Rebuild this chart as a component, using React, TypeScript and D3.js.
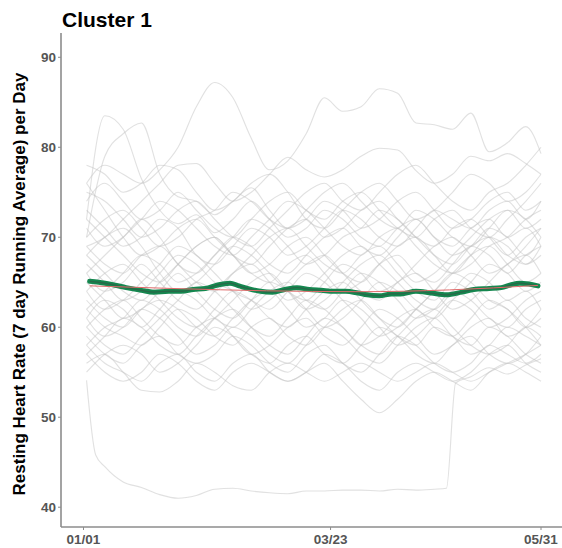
import React from "react";
import * as d3 from "d3";

const W = 562;
const H = 548;

const days = [1, 7, 13, 19, 25, 31, 37, 43, 49, 55, 61, 67, 73, 79, 85, 91, 97, 103, 109, 115, 121, 127, 133, 139, 145, 150];

const participants: number[][] = [
  [76, 78, 77, 76, 77.5, 80, 84.5, 87.2, 85.5, 81, 77.5, 78.5, 81.5, 85.5, 84, 84.5, 86.5, 86, 82.7, 82.5, 82, 83.8, 79.5, 80.5, 82.3, 79.3],
  [72, 83.5, 82, 76.5, 73, 71.5, 72.5, 70.5, 72, 74, 72, 70, 71, 73, 72, 70, 69, 71, 72, 70, 69, 71, 72, 70, 71, 69],
  [70, 79, 81.5, 82.7, 77, 74.5, 74, 72.5, 74, 75.5, 73, 71, 72, 74, 73, 71, 72, 74, 75, 73, 71, 72, 74, 75, 73, 74],
  [78, 77, 75, 76, 78, 77.5, 75, 73, 74, 76, 77, 75, 72, 71, 73, 75, 76, 74, 72, 73, 75, 77, 76, 74, 75, 77],
  [75, 74, 72, 70, 71, 73, 74, 72, 70, 69, 71, 73, 75, 76, 74, 73, 75, 77, 78, 76, 74, 73, 75, 76, 78, 80],
  [73, 71, 69, 70, 72, 71, 68, 67, 69, 71, 70, 68, 69, 71, 73, 72, 70, 69, 71, 73, 72, 71, 73, 74, 72, 74],
  [71, 69, 70, 72, 70, 67, 66, 68, 70, 69, 67, 66, 68, 70, 71, 69, 68, 70, 72, 70, 68, 69, 71, 70, 68, 70],
  [69, 67, 66, 68, 69, 67, 65, 64, 66, 68, 70, 71, 69, 67, 66, 68, 69, 67, 65, 66, 68, 70, 72, 73, 71, 72],
  [68, 70, 71, 69, 66, 64, 65, 67, 69, 68, 66, 64, 63, 65, 67, 66, 64, 65, 67, 69, 70, 68, 66, 67, 69, 71],
  [67, 65, 63, 64, 66, 68, 67, 65, 64, 62, 63, 65, 67, 68, 66, 64, 63, 65, 66, 64, 62, 63, 65, 67, 68, 66],
  [66, 64, 65, 67, 65, 63, 62, 64, 66, 67, 65, 63, 64, 66, 68, 69, 67, 65, 63, 62, 64, 66, 65, 63, 64, 62],
  [65, 63, 61, 62, 64, 66, 64, 62, 61, 63, 65, 64, 62, 60, 61, 63, 65, 64, 62, 61, 63, 65, 67, 66, 64, 65],
  [64, 66, 67, 65, 63, 61, 60, 62, 64, 63, 61, 60, 62, 64, 65, 63, 61, 60, 62, 64, 66, 65, 63, 62, 60, 61],
  [63, 61, 60, 62, 63, 62, 60, 59, 61, 63, 64, 62, 60, 61, 63, 62, 60, 58, 59, 61, 63, 62, 60, 61, 63, 64],
  [62, 60, 59, 58, 60, 62, 61, 59, 58, 60, 61, 59, 58, 60, 62, 63, 61, 59, 58, 60, 59, 57, 58, 60, 59, 58],
  [61, 59, 60, 62, 61, 59, 57, 58, 60, 59, 57, 56, 58, 60, 59, 57, 56, 58, 60, 61, 59, 58, 60, 59, 57, 56],
  [60, 62, 63, 61, 59, 58, 60, 61, 59, 57, 58, 60, 61, 59, 58, 60, 62, 61, 59, 57, 58, 60, 61, 59, 60, 62],
  [59, 57, 56, 58, 59, 57, 56, 57, 59, 58, 56, 55, 57, 58, 56, 55, 57, 59, 58, 56, 55, 56, 58, 57, 56, 57],
  [58, 56, 55, 54, 56, 57, 55, 54, 56, 57, 55, 54, 55, 57, 56, 54, 53, 55, 56, 55, 54, 55, 57, 58, 56, 55],
  [57, 55, 54, 55, 57, 56, 54, 53, 55, 56, 55, 54, 55, 56, 54, 52, 50.5, 52, 54, 55, 54, 53, 55, 56, 55, 54],
  [56, 57, 55, 53, 52.8, 54, 56, 55, 53.5, 53, 55, 56, 55, 54, 55, 56, 55, 54, 55, 56, 55, 54, 55, 56, 57, 58],
  [76, 73, 70, 68, 69, 71, 72, 70, 68, 66, 67, 69, 70, 68, 66, 65, 67, 69, 70, 68, 66, 67, 69, 70, 72, 73],
  [74, 76, 74, 72, 73, 75, 73, 71, 70, 72, 74, 75, 73, 72, 74, 75, 73, 71, 70, 72, 73, 71, 70, 72, 74, 76],
  [70, 72, 73, 71, 69, 70, 72, 73, 75, 74, 72, 71, 73, 75, 76, 74, 72, 71, 73, 72, 70, 69, 71, 73, 72, 70],
  [62, 64, 66, 68, 67, 65, 66, 68, 70, 72, 71, 69, 67, 68, 70, 71, 73, 72, 70, 68, 67, 69, 70, 68, 67, 69],
  [60, 58, 57, 59, 61, 63, 65, 64, 62, 60, 59, 61, 63, 62, 60, 58, 57, 59, 61, 62, 60, 58, 57, 58, 60, 59],
  [58, 60, 61, 63, 62, 60, 59, 61, 63, 65, 66, 64, 62, 63, 65, 67, 68, 66, 64, 63, 65, 64, 62, 63, 61, 60],
  [64, 62, 63, 65, 67, 69, 68, 66, 64, 63, 62, 64, 66, 65, 63, 61, 59, 60, 62, 64, 66, 68, 69, 67, 65, 66],
  [66, 68, 70, 72, 74, 73, 71, 69, 68, 70, 72, 74, 73, 71, 69, 68, 70, 71, 69, 67, 66, 68, 70, 69, 67, 68],
  [57, 59, 61, 60, 58, 57, 59, 61, 62, 60, 58, 57, 59, 61, 60, 58, 59, 61, 62, 60, 59, 61, 63, 62, 60, 58],
  [72, 70, 68, 66, 65, 67, 69, 70, 68, 67, 69, 71, 72, 70, 71, 73, 74, 72, 70, 69, 71, 72, 70, 68, 70, 71],
  [61, 63, 62, 60, 62, 64, 63, 61, 60, 62, 64, 65, 63, 62, 64, 66, 65, 63, 61, 62, 64, 63, 61, 60, 62, 63],
  [68, 66, 64, 63, 65, 67, 69, 70, 68, 66, 65, 67, 68, 66, 64, 65, 67, 68, 66, 65, 67, 69, 68, 66, 68, 69],
  [55, 57, 58, 57, 55, 56, 58, 60, 59, 57, 56, 58, 59, 57, 56, 58, 60, 59, 57, 56, 58, 59, 57, 56, 57, 59],
  [69, 70, 72, 74, 76, 78, 78.2, 76, 74, 75, 77, 78.9, 77.5, 76.7, 77.5, 79, 79.9, 79.7, 77.4, 76, 77, 79, 78.5, 79.3, 78.2, 77],
];

const lowDays = [1, 4, 7, 13, 19, 25, 31, 37, 43, 49, 55, 61, 67, 73, 79, 85, 91, 97, 103, 109, 115, 119, 122, 127, 133, 139, 145, 150];
const lowValues = [54.1, 45.8, 44.5, 42.8, 42.2, 41.4, 41.0, 41.3, 42.0, 42.1, 41.8, 41.6, 41.5, 41.8, 41.8, 41.9, 41.9, 41.8, 42.0, 41.9, 42.0, 42.1, 53.8, 54.5, 55.5, 54.8, 55.8, 56.5];

const meanDays = [2, 5, 10, 14, 19, 23, 28, 32, 36, 40, 44, 48, 51, 54, 58, 62, 66, 70, 74, 78, 82, 86, 90, 93, 97, 101, 104, 109, 114, 119, 124, 128, 133, 137, 140, 143, 146, 149];
const meanValues = [65.1, 65.0, 64.7, 64.4, 64.1, 63.9, 64.0, 64.0, 64.2, 64.3, 64.7, 64.9, 64.6, 64.3, 64.0, 63.9, 64.2, 64.4, 64.2, 64.1, 64.0, 64.0, 63.8, 63.6, 63.5, 63.7, 63.7, 64.0, 63.8, 63.6, 63.9, 64.2, 64.3, 64.4, 64.7, 64.9, 64.8, 64.6];

const trendDays = [2, 30, 60, 90, 120, 149];
const trendValues = [64.6, 64.3, 64.05, 63.95, 64.15, 64.65];

const yTicks = [40, 50, 60, 70, 80, 90];
const xTickDays = [0, 81, 150];
const xTickLabels = ["01/01", "03/23", "05/31"];

const title = "Cluster 1";
const yLabel = "Resting Heart Rate (7 day Running Average) per Day";

export default function App() {
  const left = 61;
  const top = 33;
  const bottom = 527;
  const right = 562;

  const x = d3.scaleLinear().domain([0, 150]).range([83.5, 541]);
  const y = d3.scaleLinear().domain([37.8, 92.7]).range([bottom, top]);

  const line = d3
    .line<[number, number]>()
    .x((d) => x(d[0]))
    .y((d) => y(d[1]))
    .curve(d3.curveMonotoneX);

  const pairs = (ds: number[], vs: number[]) => ds.map((d, i) => [d, vs[i]] as [number, number]);

  const font = "Liberation Sans, Arial, Helvetica, sans-serif";

  return (
    <svg
      width={W}
      height={H}
      style={{ position: "absolute", left: 0, top: 0, background: "#fff" }}
      fontFamily={font}
    >
      <rect x={0} y={0} width={W} height={H} fill="#fff" />
      <g>
        {participants.map((vs, i) => (
          <path key={i} d={line(pairs(days, vs)) || ""} fill="none" stroke="#c4c4c4" strokeOpacity={0.5} strokeWidth={1.1} />
        ))}
        <path d={line(pairs(lowDays, lowValues)) || ""} fill="none" stroke="#c4c4c4" strokeOpacity={0.5} strokeWidth={1.1} />
      </g>
      <path d={line(pairs(meanDays, meanValues)) || ""} fill="none" stroke="#15874f" strokeWidth={5} strokeLinejoin="round" strokeLinecap="round" />
      <path d={line(pairs(meanDays, meanValues)) || ""} fill="none" stroke="#3c4a42" strokeOpacity={0.5} strokeWidth={1.3} />
      <path d={line(pairs(trendDays, trendValues)) || ""} fill="none" stroke="#e06a6a" strokeWidth={1} />

      {/* axes */}
      <line x1={left} x2={left} y1={top} y2={bottom} stroke="#8c8c8c" strokeWidth={1.6} />
      <line x1={left} x2={right} y1={bottom} y2={bottom} stroke="#8c8c8c" strokeWidth={1.6} />
      {yTicks.map((t) => (
        <g key={t}>
          <line x1={left - 3} x2={left} y1={y(t)} y2={y(t)} stroke="#8c8c8c" strokeWidth={1} />
          <text x={left - 5} y={y(t)} dy="0.35em" textAnchor="end" fontSize={13.5} fontWeight="bold" fill="#555">
            {t}
          </text>
        </g>
      ))}
      {xTickDays.map((t, i) => (
        <g key={t}>
          <line x1={x(t)} x2={x(t)} y1={bottom} y2={bottom + 3} stroke="#8c8c8c" strokeWidth={1} />
          <text x={x(t)} y={bottom + 17} textAnchor="middle" fontSize={13.5} fontWeight="bold" fill="#555">
            {xTickLabels[i]}
          </text>
        </g>
      ))}

      <text x={62} y={27} fontSize={21} fontWeight="bold" fill="#000">
        {title}
      </text>
      <text
        transform={`translate(25, ${(top + bottom) / 2 + 4}) rotate(-90)`}
        textAnchor="middle"
        fontSize={17}
        fontWeight="bold"
        fill="#000"
      >
        {yLabel}
      </text>
    </svg>
  );
}
